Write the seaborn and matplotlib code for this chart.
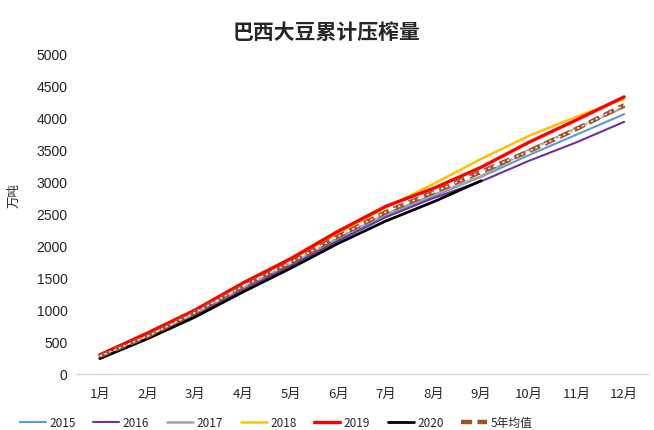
import pandas as pd
import matplotlib.pyplot as plt
import seaborn as sns
from matplotlib.lines import Line2D

months = ['1月', '2月', '3月', '4月', '5月', '6月', '7月', '8月', '9月', '10月', '11月', '12月']

y2015 = [270, 570, 930, 1330, 1700, 2100, 2480, 2780, 3080, 3420, 3740, 4060]
y2016 = [260, 560, 920, 1320, 1690, 2080, 2450, 2750, 3010, 3330, 3620, 3940]
y2017 = [270, 580, 950, 1350, 1730, 2130, 2500, 2800, 3090, 3500, 3840, 4170]
y2018 = [300, 620, 1000, 1420, 1780, 2200, 2600, 2970, 3360, 3720, 4020, 4300]
y2019 = [300, 640, 1000, 1420, 1800, 2230, 2620, 2900, 3230, 3620, 3970, 4330]
y2020 = [240, 550, 890, 1280, 1650, 2040, 2390, 2690, 3020]
avg5 = [280, 590, 960, 1370, 1740, 2150, 2530, 2840, 3160, 3480, 3830, 4200]

series = {'2015': y2015, '2016': y2016, '2017': y2017, '2018': y2018,
          '2019': y2019, '2020': y2020}
colors = {'2015': '#5b9bd5', '2016': '#7030a0', '2017': '#a5a5a5',
          '2018': '#ffc000', '2019': '#ff0000', '2020': '#000000'}
widths = {'2015': 1.5, '2016': 1.5, '2017': 1.8, '2018': 1.8, '2019': 2.4, '2020': 2.0}

rows = []
for name, vals in series.items():
    for i, v in enumerate(vals):
        rows.append({'year': name, 'x': i, 'value': v})
df = pd.DataFrame(rows)

sns.set_theme(style='white')
plt.rcParams['font.family'] = ['Noto Sans CJK SC', 'DejaVu Sans']

fig = plt.figure(figsize=(6.54, 4.31), dpi=100)
ax = fig.add_axes([0.1162, 0.13, 0.8746, 0.7424])

for name in series:
    sns.lineplot(data=df[df['year'] == name], x='x', y='value', ax=ax,
                 color=colors[name], linewidth=widths[name], label=name)

avg_df = pd.DataFrame({'x': range(len(avg5)), 'value': avg5})
sns.lineplot(data=avg_df, x='x', y='value', ax=ax, color='#a0522d',
             linewidth=3.2, label='_nolegend_')
ax.lines[-1].set_dashes([2.5, 1.2])
sns.lineplot(data=avg_df, x='x', y='value', ax=ax, color='white',
             linewidth=1.0, label='_nolegend_')
ax.lines[-1].set_dashes([1.6, 2.1])
ax.lines[-1].set_dash_capstyle('butt')

ax.set_xlim(-0.5, 11.5)
ax.set_ylim(0, 5000)
ax.set_xticks(range(12))
ax.set_xticklabels(months, fontsize=9.5)
ax.set_yticks(range(0, 5001, 500))
ax.set_yticklabels([str(v) for v in range(0, 5001, 500)], fontsize=10,
                   family=['Liberation Sans', 'DejaVu Sans'])
ax.tick_params(axis='both', length=0, pad=6)
ax.tick_params(axis='x', pad=9)
ax.set_xlabel('')
ax.set_ylabel('万吨', fontsize=9)
ax.yaxis.set_label_coords(-0.097, 0.56)
for s in ['top', 'right', 'left']:
    ax.spines[s].set_visible(False)
ax.spines['bottom'].set_color('#d9d9d9')
ax.spines['bottom'].set_linewidth(1)

fig.suptitle('巴西大豆累计压榨量', x=0.5, y=0.95, fontsize=15, fontweight='bold')

handles, labels = ax.get_legend_handles_labels()
avg_handle = Line2D([0], [0], color='#a0522d', linewidth=3.2, dashes=[2.5, 1.2])
handles = handles[:6] + [avg_handle]
labels = labels[:6] + ['5年均值']
if ax.legend_:
    ax.legend_.remove()
fig.legend(handles, labels, loc='center left', bbox_to_anchor=(0.03, 0.018), ncol=7,
           frameon=False, fontsize=8.5, handlelength=2.2, columnspacing=1.5,
           handletextpad=0.3, borderaxespad=0, borderpad=0)

fig.savefig('out.png', dpi=100)
